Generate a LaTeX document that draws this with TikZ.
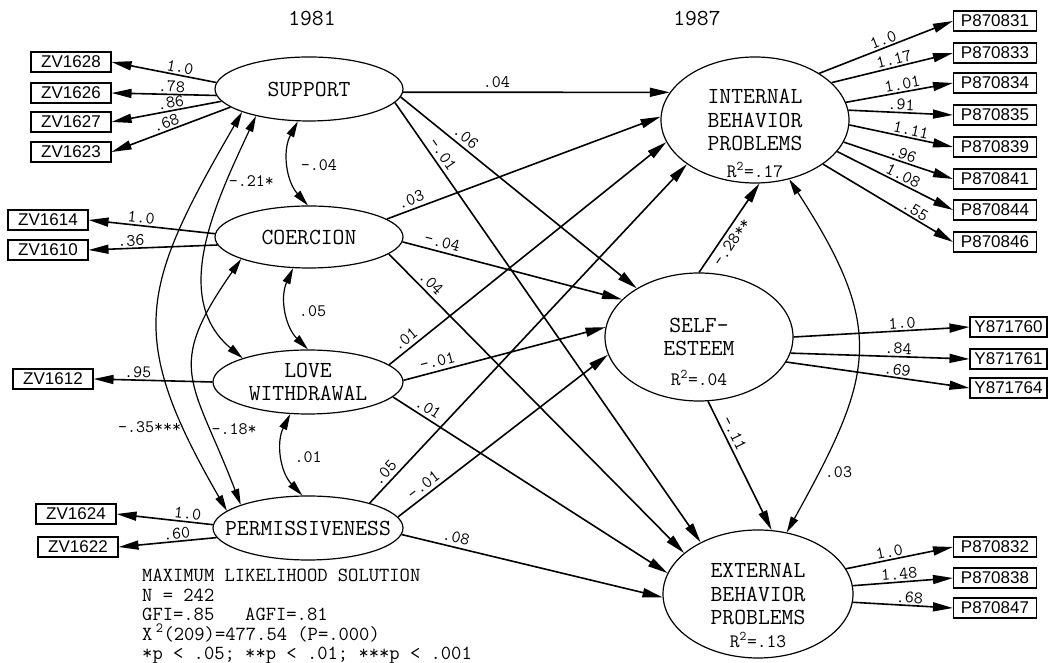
\documentclass[tikz,border=0pt]{standalone}
\usepackage{fontspec}
\setmainfont{Liberation Serif}
\newfontfamily\boxfont{Liberation Sans}
\usetikzlibrary{positioning, shapes.geometric, arrows.meta}

\tikzset{
  latent/.style={draw, ellipse, line width=1.2pt, inner sep=0pt, align=center,
    font=\ttfamily\fontsize{23}{23.5}\selectfont},
  obs/.style={draw, rectangle, line width=1.1pt, minimum height=20pt, inner sep=0pt,
    font=\boxfont\fontsize{17}{17}\selectfont},
  lab/.style={font=\ttfamily\fontsize{17.5}{17.5}\selectfont, inner sep=1.5pt},
  eff/.style={line width=1.6pt, -{Triangle[length=20pt,width=9pt]}},
  load/.style={line width=1.6pt, {Triangle[length=20pt,width=9pt]}-},
  cov/.style={line width=1.2pt, {Triangle[length=16pt,width=8pt]}-{Triangle[length=16pt,width=8pt]}},
}

\begin{document}
\begin{tikzpicture}[x=1pt, y=1pt]
    \useasboundingbox (0,0) rectangle (1052,663);
    % waves
    \node[font=\ttfamily\fontsize{23}{23}\selectfont] (y1981) at (312,645) {1981};
    \node[font=\ttfamily\fontsize{23}{23}\selectfont] (y1987) at (697,645) {1987};
    % latent variables
    \node[latent, minimum width=188pt, minimum height=64pt] (sup) at (309,574) {SUPPORT};
    \node[latent, minimum width=188pt, minimum height=62pt] (coe) at (309,426) {COERCION};
    \node[latent, minimum width=190pt, minimum height=64pt] (lov) at (308,281) {LOVE\\WITHDRAWAL};
    \node[latent, minimum width=190pt, minimum height=64pt] (per) at (308,135) {\makebox[0pt]{PERMISSIVENESS}};
    \node[latent, minimum width=188pt, minimum height=126pt] (int) at (755,543) {INTERNAL\\BEHAVIOR\\PROBLEMS};
    \node[latent, minimum width=188pt, minimum height=128pt] (se) at (699,326) {SELF-\\ESTEEM};
    \node[latent, minimum width=190pt, minimum height=128pt] (ext) at (758,69) {EXTERNAL\\BEHAVIOR\\PROBLEMS};
    \node[font=\ttfamily\fontsize{19}{19}\selectfont] (intr) at (755,493) {R\textsuperscript{2}=.17};
    \node[font=\ttfamily\fontsize{19}{19}\selectfont] (ser) at (699,285) {R\textsuperscript{2}=.04};
    \node[font=\ttfamily\fontsize{19}{19}\selectfont] (extr) at (758,23) {R\textsuperscript{2}=.13};
    % indicators 1981
    \foreach \t/\x/\y in {ZV1628/71/601, ZV1626/71/570, ZV1627/71/541, ZV1623/71/511,
      ZV1614/48/443, ZV1610/48/413, ZV1612/53/284, ZV1624/76/149, ZV1622/78/116}
    {
    \node[obs, minimum width=80pt] (\t) at (\x,\y) {\t};
    }
    \foreach \t/\e/\a/\l/\p in {ZV1628/sup/176/1.0/.64, ZV1626/sup/184/.78/.57,
      ZV1627/sup/188/.86/.55, ZV1623/sup/193/.68/.48, ZV1614/coe/178/1.0/.41,
      ZV1610/coe/185/.36/.33, ZV1612/lov/180/.95/.37, ZV1624/per/178/1.0/.73,
      ZV1622/per/186/.60/.6}
    {
    \draw[load] (\t.east) -- node[lab, sloped, above, pos=\p] (l\t) {\l} (\e.\a);
    }
    % indicators 1987
    \foreach \t/\y in {P870831/642, P870833/610, P870834/580, P870835/548,
      P870839/516, P870841/484, P870844/453, P870846/421, P870832/116,
      P870838/85, P870847/55}
    {
    \node[obs, minimum width=83pt] (\t) at (995,\y) {\t};
    }
    \foreach \t/\y in {Y871760/336, Y871761/304, Y871764/275}
    {
    \node[obs, minimum width=77pt] (\t) at (1008.5,\y) {\t};
    }
    \foreach \t/\e/\a/\l/\p in {P870831/int/36/1.0/.5, P870833/int/26/1.17/.53,
      P870834/int/11/1.01/.54, P870835/int/6/.91/.5, P870839/int/-3/1.11/.58,
      P870841/int/-14/.96/.52, P870844/int/-21/1.08/.54, P870846/int/-33/.55/.68,
      Y871760/se/0/1.0/.62, Y871761/se/-10/.84/.6, Y871764/se/-16/.69/.6,
      P870832/ext/16/1.0/.42, P870838/ext/5/1.48/.47, P870847/ext/-5/.68/.56}
    {
    \draw[eff] (\e.\a) -- node[lab, sloped, above, pos=\p] (l\t) {\l} (\t.west);
    }
    % structural paths
    \foreach \s/\sa/\e/\ea/\l/\p in {sup/-2/int/162/.04/.35, sup/-5.5/se/142/.06/.25,
      sup/-9/ext/138/-.01/.13, coe/13.5/int/178/.03/.1, coe/-3/se/154.5/-.04/.17,
      coe/-12/ext/151.5/.04/.12, lov/12.6/int/194/.01/.08, lov/1/se/174/-.01/.18,
      lov/-10/ext/167/.01/.11, per/22/int/213/.05/.07, per/7/se/191/-.01/.15,
      per/-4/ext/182/.08/.2, se/-82/ext/78/-.11/.28}
    {
    \draw[eff] (\s.\sa) -- node[lab, sloped, above=2pt, pos=\p] (e\s\e) {\l} (\e.\ea);
    }
    \draw[eff] (se.90) -- node[lab, sloped, below=2pt, pos=.4] (eseint) {-.28**} (int.274);
    % correlations
    \draw[cov] (sup.251) to[bend right=35] node[lab, midway, right=10pt] (csupcoe) {-.04} (coe.92);
    \draw[cov] (coe.243) to[bend right=35] node[lab, midway, right=10pt] (ccoelov) {.05} (lov.90);
    \draw[cov] (lov.241) to[bend right=35] node[lab, midway, right=10pt] (clovper) {.01} (per.100);
    \draw[cov] (sup.207) to[out=245, in=140] node[lab, pos=.25, right] (csuplov) {-.21*} (lov.160);
    \draw[cov] (sup.199) to[out=240, in=120, looseness=1.3] node[lab, pos=.82, left] (csupper) {-.35***} (per.168);
    \draw[cov] (coe.198) to[out=235, in=111, looseness=1.4] node[lab, pos=.75, right] (ccoeper) {-.18*} (per.161);
    \draw[cov] (int.-60) to[out=-57, in=61, looseness=1.3] node[lab, pos=.86, right=4pt] (cintext) {.03} (ext.65);
    % fit
    \node[anchor=base west, align=left, inner sep=0pt,
      font=\ttfamily\fontsize{20}{19.5}\selectfont] (fit) at (142,3)
      {MAXIMUM LIKELIHOOD SOLUTION\\N = 242\\GFI=.85\ \ \ AGFI=.81\\
       X\,\textsuperscript{2}(209)=477.54 (P=.000)\\{}*p < .05; **p < .01; ***p < .001};
\end{tikzpicture}
\end{document}
